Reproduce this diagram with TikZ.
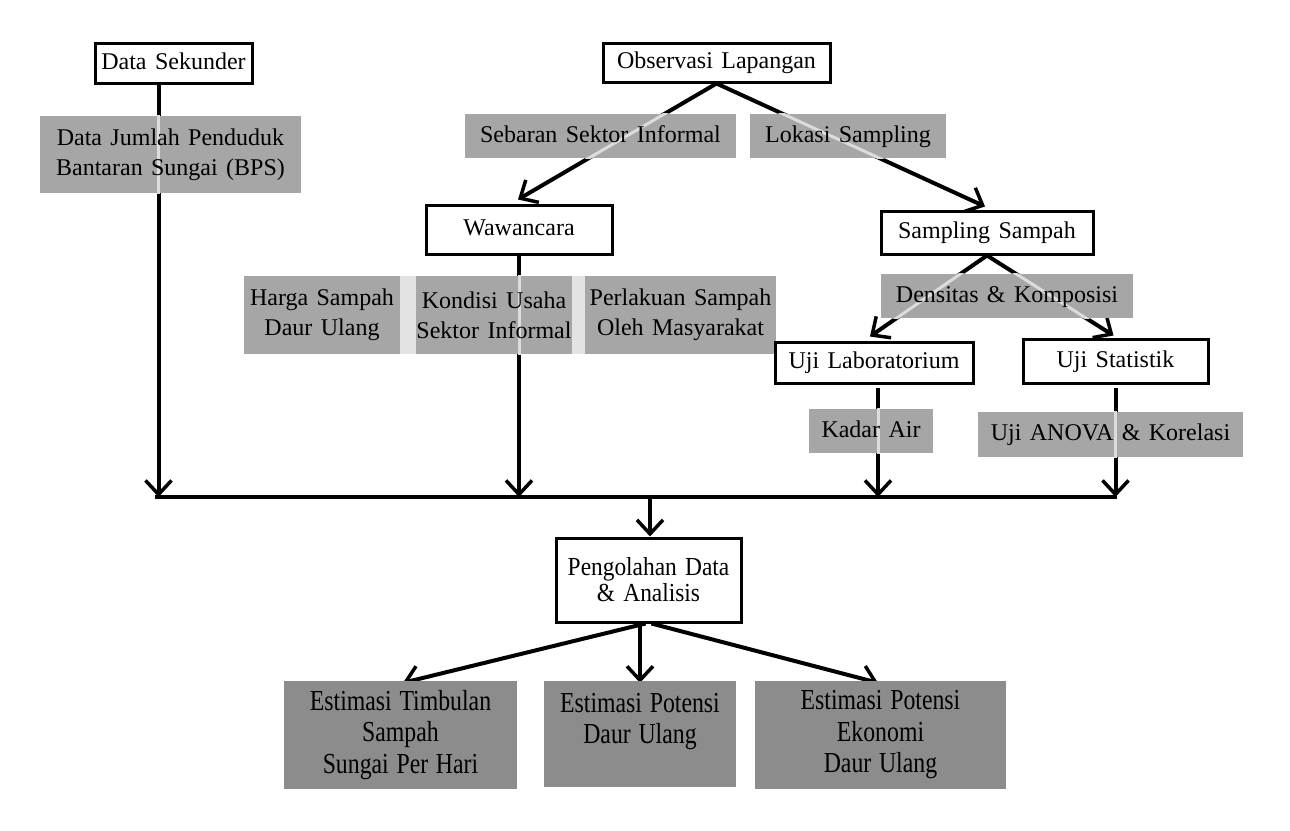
\documentclass[tikz,border=0pt]{standalone}
\usepackage{fontspec}
\setmainfont{Liberation Serif}[WordSpace=1.4]
\newfontfamily\condfont[FakeStretch=0.82,WordSpace=1.3]{Liberation Serif}
\newfontfamily\condfontb[FakeStretch=0.9,WordSpace=1.4]{Liberation Serif}
\usetikzlibrary{arrows.meta}
\pgfdeclarelayer{lines}\pgfdeclarelayer{fills}\pgfdeclarelayer{ghostlayer}
\pgfsetlayers{lines,fills,ghostlayer,main}
\definecolor{gfill}{HTML}{A6A6A6}
\definecolor{dfill}{HTML}{8C8C8C}
\definecolor{stripc}{HTML}{E3E3E3}
\definecolor{ghostc}{HTML}{DCDCDC}
\begin{document}
\begin{tikzpicture}[x=1pt,y=-1pt,
  wbox/.style={draw=black, line width=3pt, fill=white, inner sep=0pt, align=center, font=\fontsize{24}{30}\selectfont},
  oneline/.style={text height=17pt, text depth=5pt},
  gtext/.style={inner sep=0pt, align=center, font=\fontsize{24}{30}\selectfont},
  dbox/.style={fill=dfill, inner sep=0pt, align=center, font=\condfont\fontsize{29}{31.5}\selectfont},
  conn/.style={line width=4pt, -{Straight Barb[length=14pt,width=26pt,line width=3.5pt]}},
  bar/.style={line width=4pt},
  ghostline/.style={line width=3pt, draw=ghostc},
]
\useasboundingbox (0,0) rectangle (1290,830);

% white boxes
\node[wbox, oneline, minimum width=157pt, minimum height=40pt] (ds) at (173.5,63) {Data Sekunder};
\node[wbox, oneline, minimum width=227pt, minimum height=39pt] (obs) at (716.5,62.5) {Observasi Lapangan};
\node[wbox, oneline, minimum width=186pt, minimum height=49pt] (waw) at (519,229.5) {Wawancara};
\node[wbox, oneline, minimum width=212pt, minimum height=43pt] (samp) at (987,232.5) {Sampling Sampah};
\node[wbox, oneline, minimum width=198pt, minimum height=41pt] (lab) at (874,362.5) {Uji Laboratorium};
\node[wbox, oneline, minimum width=185pt, minimum height=44pt] (stat) at (1115.5,361) {Uji Statistik};
\node[wbox, minimum width=185pt, minimum height=84pt, font=\condfontb\fontsize{26}{26}\selectfont] (peng) at (648.5,580) {Pengolahan Data\\\& Analisis};

% dark result boxes
\node[dbox, minimum width=233pt, minimum height=108pt] (b1) at (400.5,735) {Estimasi Timbulan\\Sampah\\Sungai Per Hari};
\node[dbox, minimum width=192pt, minimum height=106pt] (b2) at (640,734) {Estimasi Potensi\\Daur Ulang\\\mbox{}};
\node[dbox, minimum width=251pt, minimum height=108pt] (b3) at (880.5,735) {Estimasi Potensi\\Ekonomi\\Daur Ulang};

% gray label boxes (text; fills on layer below)
\node[gtext, minimum width=261pt, minimum height=77pt] (djp) at (170.5,154.5) {Data Jumlah Penduduk\\Bantaran Sungai (BPS)};
\node[gtext, oneline, minimum width=271pt, minimum height=44pt] (seb) at (600.5,136) {Sebaran Sektor Informal};
\node[gtext, oneline, minimum width=196pt, minimum height=44pt] (lok) at (848,136) {Lokasi Sampling};
\node[gtext, minimum width=156pt, minimum height=78pt] (harga) at (322,315) {Harga Sampah\\Daur Ulang};
\node[gtext, minimum width=156pt, minimum height=78pt] (kond) at (494,315) {Kondisi Usaha\\Sektor Informal};
\node[gtext, minimum width=191pt, minimum height=78pt] (perl) at (680.5,315) {Perlakuan Sampah\\Oleh Masyarakat};
\node[gtext, oneline, minimum width=252pt, minimum height=44pt] (dens) at (1007,296) {Densitas \& Komposisi};
\node[gtext, oneline, minimum width=124pt, minimum height=44pt] (kadar) at (871,431) {Kadar Air};
\node[gtext, oneline, minimum width=265pt, minimum height=45pt] (anova) at (1110.5,434.5) {Uji ANOVA \& Korelasi};

\coordinate (hl) at (155,497);
\coordinate (hr) at (1117,497);

\begin{pgfonlayer}{fills}
  \foreach \n in {djp,seb,lok,harga,kond,perl,dens,kadar,anova}
    {\fill[gfill] (\n.north west) rectangle (\n.south east);}
  \fill[stripc] (harga.north east) rectangle (kond.south west);
  \fill[stripc] (kond.north east) rectangle (perl.south west);
\end{pgfonlayer}

\begin{pgfonlayer}{lines}
  \draw[conn] ([xshift=-15pt]ds.south) -- ([xshift=-15pt]ds.south |- hl);
  \draw[conn] (obs.south) -- ([xshift=-1pt,yshift=4pt]waw.north);
  \draw[conn] (obs.south) -- ([xshift=-2pt,yshift=3pt]samp.north);
  \draw[conn] (waw.south) -- (waw.south |- hl);
  \draw[conn] (samp.south) -- ([xshift=-4pt,yshift=4pt]lab.north);
  \draw[conn] (samp.south) -- ([xshift=-2pt,yshift=2pt]stat.north);
  \draw[conn] ([xshift=4pt,yshift=-3pt]lab.south) -- ([xshift=4pt]lab.south |- hl);
  \draw[conn] ([yshift=-3pt]stat.south) -- (stat.south |- hl);
  \draw[bar] (hl) -- (hr);
  \draw[conn] ([xshift=1.5pt]peng.north |- hl) -- ([xshift=1.5pt]peng.north);
  \draw[conn] ([xshift=-3pt]peng.south) -- ([xshift=2.5pt,yshift=-2pt]b1.north);
  \draw[conn] ([xshift=-8.5pt]peng.south) -- ([yshift=-2pt]b2.north);
  \draw[conn] ([xshift=3pt]peng.south) -- ([xshift=-2.5pt,yshift=-2pt]b3.north);
\end{pgfonlayer}

\begin{pgfonlayer}{ghostlayer}
  \begin{scope}
    \clip (djp.north west) rectangle (djp.south east);
    \draw[ghostline] ([xshift=-15pt]ds.south) -- ([xshift=-15pt]ds.south |- hl);
  \end{scope}
  \begin{scope}
    \clip (seb.north west) rectangle (seb.south east);
    \draw[ghostline] (obs.south) -- ([xshift=-1pt,yshift=4pt]waw.north);
  \end{scope}
  \begin{scope}
    \clip (lok.north west) rectangle (lok.south east);
    \draw[ghostline] (obs.south) -- ([xshift=-2pt,yshift=3pt]samp.north);
  \end{scope}
  \begin{scope}
    \clip (kond.north west) rectangle (kond.south east);
    \draw[ghostline] (waw.south) -- (waw.south |- hl);
  \end{scope}
  \begin{scope}
    \clip (dens.north west) rectangle (dens.south east);
    \draw[ghostline] (samp.south) -- ([xshift=-4pt,yshift=4pt]lab.north);
    \draw[ghostline] (samp.south) -- ([xshift=-2pt,yshift=2pt]stat.north);
  \end{scope}
  \begin{scope}
    \clip (kadar.north west) rectangle (kadar.south east);
    \draw[ghostline] ([xshift=4pt,yshift=-3pt]lab.south) -- ([xshift=4pt]lab.south |- hl);
  \end{scope}
  \begin{scope}
    \clip (anova.north west) rectangle (anova.south east);
    \draw[ghostline] ([yshift=-3pt]stat.south) -- (stat.south |- hl);
  \end{scope}
\end{pgfonlayer}
\end{tikzpicture}
\end{document}
